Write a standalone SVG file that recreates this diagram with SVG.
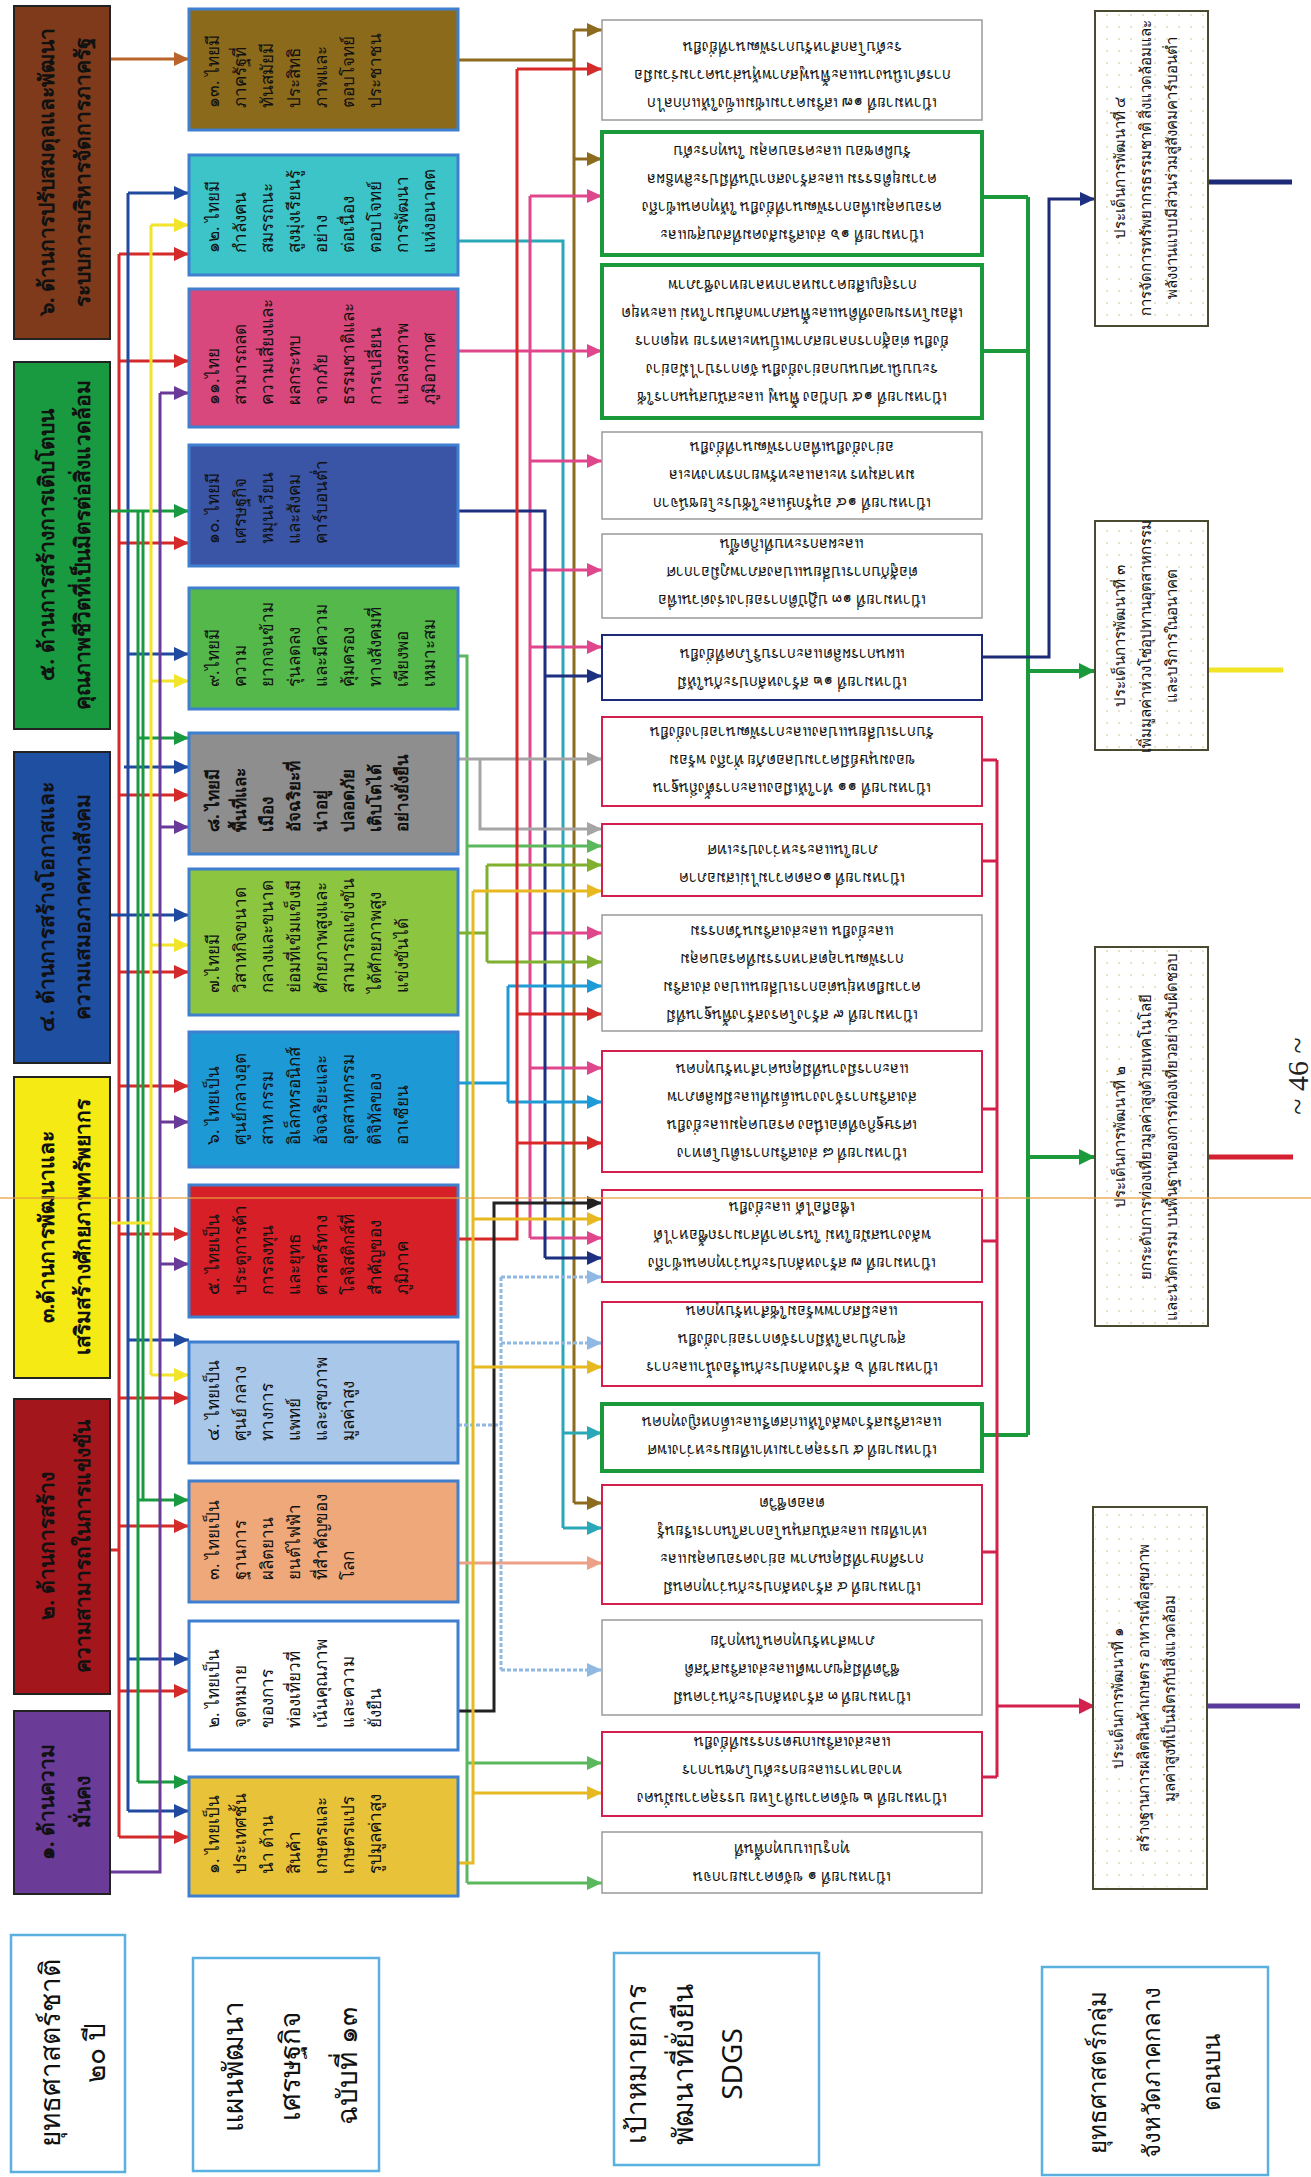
<svg xmlns="http://www.w3.org/2000/svg" width="1311" height="2177" viewBox="0 0 1311 2177">
<style>
.bx1{stroke:#222;stroke-width:2}
.bx2{stroke:#3f7fcf;stroke-width:3}
.sg{fill:#fff;stroke:#9a9a9a;stroke-width:1.5}
.sgG{fill:#fff;stroke:#1a9a3a;stroke-width:4}
.sgR{fill:#fff;stroke:#d4204c;stroke-width:2}
.sgN{fill:#fff;stroke:#1c2a78;stroke-width:2}
.rb{stroke:#4a4a30;stroke-width:2}
.lb{fill:#fff;stroke:#5ab0e0;stroke-width:2.5}
.t1{font-family:'Noto Sans','DejaVu Sans',sans-serif;font-size:21px;font-weight:bold;fill:#111;text-anchor:middle}
.t2{font-family:'Noto Sans','DejaVu Sans',sans-serif;font-size:17px;fill:#111}
.t2b{font-family:'Noto Sans','DejaVu Sans',sans-serif;font-size:17px;font-weight:bold;fill:#111}
.ts{font-family:'Noto Sans','DejaVu Sans',sans-serif;font-size:15px;fill:#111;text-anchor:middle}
.tr{font-family:'Noto Sans','DejaVu Sans',sans-serif;font-size:15px;fill:#111;text-anchor:middle}
.tl{font-family:'Noto Sans','DejaVu Sans',sans-serif;font-size:28px;fill:#111;text-anchor:middle}
.tl2{font-family:'Noto Sans','DejaVu Sans',sans-serif;font-size:24px;fill:#111;text-anchor:middle}
.c{fill:none;stroke-width:3}
</style>
<defs>
<pattern id="dots" width="12" height="12" patternUnits="userSpaceOnUse"><circle cx="3" cy="3" r="0.9" fill="#d9d9a8"/></pattern>
<marker id="mBr1" markerWidth="16" markerHeight="16" refX="15" refY="8" orient="auto" markerUnits="userSpaceOnUse"><path d="M0,1 L15,8 L0,15 z" fill="#b8642a"/></marker>
<marker id="mRed" markerWidth="16" markerHeight="16" refX="15" refY="8" orient="auto" markerUnits="userSpaceOnUse"><path d="M0,1 L15,8 L0,15 z" fill="#d42a2a"/></marker>
<marker id="mNavy" markerWidth="16" markerHeight="16" refX="15" refY="8" orient="auto" markerUnits="userSpaceOnUse"><path d="M0,1 L15,8 L0,15 z" fill="#1f4aa0"/></marker>
<marker id="mGreen" markerWidth="16" markerHeight="16" refX="15" refY="8" orient="auto" markerUnits="userSpaceOnUse"><path d="M0,1 L15,8 L0,15 z" fill="#1a9a40"/></marker>
<marker id="mYel" markerWidth="16" markerHeight="16" refX="15" refY="8" orient="auto" markerUnits="userSpaceOnUse"><path d="M0,1 L15,8 L0,15 z" fill="#f2e42a"/></marker>
<marker id="mPur" markerWidth="16" markerHeight="16" refX="15" refY="8" orient="auto" markerUnits="userSpaceOnUse"><path d="M0,1 L15,8 L0,15 z" fill="#6a3a9a"/></marker>
<marker id="mOB" markerWidth="16" markerHeight="16" refX="15" refY="8" orient="auto" markerUnits="userSpaceOnUse"><path d="M0,1 L15,8 L0,15 z" fill="#8c6a1e"/></marker>
<marker id="mTeal" markerWidth="16" markerHeight="16" refX="15" refY="8" orient="auto" markerUnits="userSpaceOnUse"><path d="M0,1 L15,8 L0,15 z" fill="#2aa8b8"/></marker>
<marker id="mPink" markerWidth="16" markerHeight="16" refX="15" refY="8" orient="auto" markerUnits="userSpaceOnUse"><path d="M0,1 L15,8 L0,15 z" fill="#e0468c"/></marker>
<marker id="mNv2" markerWidth="16" markerHeight="16" refX="15" refY="8" orient="auto" markerUnits="userSpaceOnUse"><path d="M0,1 L15,8 L0,15 z" fill="#1c2f80"/></marker>
<marker id="mLG" markerWidth="16" markerHeight="16" refX="15" refY="8" orient="auto" markerUnits="userSpaceOnUse"><path d="M0,1 L15,8 L0,15 z" fill="#5cb85c"/></marker>
<marker id="mGray" markerWidth="16" markerHeight="16" refX="15" refY="8" orient="auto" markerUnits="userSpaceOnUse"><path d="M0,1 L15,8 L0,15 z" fill="#a5a5a5"/></marker>
<marker id="mOl" markerWidth="16" markerHeight="16" refX="15" refY="8" orient="auto" markerUnits="userSpaceOnUse"><path d="M0,1 L15,8 L0,15 z" fill="#7fb030"/></marker>
<marker id="mBlue" markerWidth="16" markerHeight="16" refX="15" refY="8" orient="auto" markerUnits="userSpaceOnUse"><path d="M0,1 L15,8 L0,15 z" fill="#1e9ad6"/></marker>
<marker id="mLB" markerWidth="16" markerHeight="16" refX="15" refY="8" orient="auto" markerUnits="userSpaceOnUse"><path d="M0,1 L15,8 L0,15 z" fill="#8fb8e2"/></marker>
<marker id="mPch" markerWidth="16" markerHeight="16" refX="15" refY="8" orient="auto" markerUnits="userSpaceOnUse"><path d="M0,1 L15,8 L0,15 z" fill="#eca088"/></marker>
<marker id="mBlk" markerWidth="16" markerHeight="16" refX="15" refY="8" orient="auto" markerUnits="userSpaceOnUse"><path d="M0,1 L15,8 L0,15 z" fill="#222"/></marker>
<marker id="mGold" markerWidth="16" markerHeight="16" refX="15" refY="8" orient="auto" markerUnits="userSpaceOnUse"><path d="M0,1 L15,8 L0,15 z" fill="#e8b820"/></marker>
<marker id="mDG" markerWidth="18" markerHeight="18" refX="16" refY="9" orient="auto" markerUnits="userSpaceOnUse"><path d="M0,1 L16,9 L0,17 z" fill="#1a9a3a"/></marker>
<marker id="mCr" markerWidth="18" markerHeight="18" refX="16" refY="9" orient="auto" markerUnits="userSpaceOnUse"><path d="M0,1 L16,9 L0,17 z" fill="#d4204c"/></marker>
</defs>
<rect width="1311" height="2177" fill="#fff"/>

<g id="connectors">
<!-- national strategy -> plan 13 -->
<path class="c" stroke="#b8642a" d="M110,59 H189" marker-end="url(#mBr1)"/>
<path class="c" stroke="#d42a2a" d="M110,1550 H119 M119,254 V1837"/>
<g stroke="#d42a2a" class="c">
<path d="M119,254 H189" marker-end="url(#mRed)"/><path d="M119,361 H189" marker-end="url(#mRed)"/><path d="M119,543 H189" marker-end="url(#mRed)"/><path d="M119,795 H189" marker-end="url(#mRed)"/><path d="M119,972 H189" marker-end="url(#mRed)"/><path d="M119,1086 H189" marker-end="url(#mRed)"/><path d="M119,1234 H189" marker-end="url(#mRed)"/><path d="M119,1398 H189" marker-end="url(#mRed)"/><path d="M119,1526 H189" marker-end="url(#mRed)"/><path d="M119,1691 H189" marker-end="url(#mRed)"/><path d="M119,1837 H189" marker-end="url(#mRed)"/>
</g>
<path class="c" stroke="#1f4aa0" d="M128,193 V1811"/>
<g stroke="#1f4aa0" class="c">
<path d="M128,193 H189" marker-end="url(#mNavy)"/><path d="M128,654 H189" marker-end="url(#mNavy)"/><path d="M124,767 H189" marker-end="url(#mNavy)"/><path d="M110,915 H189" marker-end="url(#mNavy)"/><path d="M128,1340 H189" marker-end="url(#mNavy)"/><path d="M128,1659 H189" marker-end="url(#mNavy)"/><path d="M128,1811 H189" marker-end="url(#mNavy)"/>
</g>
<path class="c" stroke="#1a9a40" d="M138,511 V1782 M143,511 V1500"/>
<g stroke="#1a9a40" class="c">
<path d="M110,511 H189" marker-end="url(#mGreen)"/><path d="M138,738 H189" marker-end="url(#mGreen)"/><path d="M138,1500 H189" marker-end="url(#mGreen)"/><path d="M138,1782 H189" marker-end="url(#mGreen)"/>
</g>
<path class="c" stroke="#f2e42a" d="M110,1223 H151 M151,225 V1375"/>
<g stroke="#f2e42a" class="c">
<path d="M151,225 H189" marker-end="url(#mYel)"/><path d="M151,681 H189" marker-end="url(#mYel)"/><path d="M151,945 H189" marker-end="url(#mYel)"/><path d="M151,1375 H189" marker-end="url(#mYel)"/>
</g>
<path class="c" stroke="#6a3a9a" d="M110,1872 H160 V393"/>
<g stroke="#6a3a9a" class="c">
<path d="M160,393 H189" marker-end="url(#mPur)"/><path d="M160,827 H189" marker-end="url(#mPur)"/><path d="M160,1122 H189" marker-end="url(#mPur)"/><path d="M160,1264 H189" marker-end="url(#mPur)"/>
</g>

<!-- plan 13 -> SDGs -->
<g class="c" stroke="#8c6a1e"><path d="M458,60 H574 M574,30 V1503"/><path d="M574,30 H602" marker-end="url(#mOB)"/><path d="M574,159 H602" marker-end="url(#mOB)"/><path d="M574,1503 H602" marker-end="url(#mOB)"/></g>
<g class="c" stroke="#2aa8b8"><path d="M458,241 H563 V1528"/><path d="M563,1433 H602" marker-end="url(#mTeal)"/><path d="M563,1528 H602" marker-end="url(#mTeal)"/></g>
<g class="c" stroke="#e0468c"><path d="M530,196 V1238"/><path d="M530,196 H602" marker-end="url(#mPink)"/><path d="M458,351 H602" marker-end="url(#mPink)"/><path d="M530,461 H602" marker-end="url(#mPink)"/><path d="M530,570 H602" marker-end="url(#mPink)"/><path d="M530,647 H602" marker-end="url(#mPink)"/><path d="M530,933 H602" marker-end="url(#mPink)"/><path d="M530,1068 H602" marker-end="url(#mPink)"/><path d="M530,1238 H602" marker-end="url(#mPink)"/></g>
<g class="c" stroke="#1c2f80"><path d="M458,511 H545 V1258"/><path d="M545,676 H602" marker-end="url(#mNv2)"/><path d="M545,1258 H602" marker-end="url(#mNv2)"/></g>
<g class="c" stroke="#5cb85c"><path d="M458,656 H467 V1883"/><path d="M467,846 H602" marker-end="url(#mLG)"/><path d="M467,1763 H602" marker-end="url(#mLG)"/><path d="M467,1883 H602" marker-end="url(#mLG)"/></g>
<g class="c" stroke="#a5a5a5"><path d="M458,759 H602" marker-end="url(#mGray)"/><path d="M480,759 V829 H602" marker-end="url(#mGray)"/></g>
<g class="c" stroke="#7fb030"><path d="M458,933 H487 M487,865 V962"/><path d="M487,865 H602" marker-end="url(#mOl)"/><path d="M487,962 H602" marker-end="url(#mOl)"/></g>
<g class="c" stroke="#1e9ad6"><path d="M458,1083 H508 M508,986 V1102"/><path d="M508,986 H602" marker-end="url(#mBlue)"/><path d="M508,1102 H602" marker-end="url(#mBlue)"/></g>
<g class="c" stroke="#d82828"><path d="M458,1239 H517 V69"/><path d="M517,69 H602" marker-end="url(#mRed)"/><path d="M517,1014 H602" marker-end="url(#mRed)"/><path d="M517,1143 H602" marker-end="url(#mRed)"/></g>
<g class="c" stroke="#8fb8e2" stroke-dasharray="4 2"><path d="M458,1425 H501 M501,1277 V1670"/><path d="M501,1277 H602" marker-end="url(#mLB)"/><path d="M501,1343 H602" marker-end="url(#mLB)"/><path d="M501,1670 H602" marker-end="url(#mLB)"/></g>
<g class="c" stroke="#eca088"><path d="M458,1563 H602" marker-end="url(#mPch)"/></g>
<g class="c" stroke="#222"><path d="M458,1711 H494 V1203 H602" marker-end="url(#mBlk)"/></g>
<g class="c" stroke="#e8b820"><path d="M458,1863 H473 V891"/><path d="M473,891 H602" marker-end="url(#mGold)"/><path d="M473,1219 H602" marker-end="url(#mGold)"/><path d="M473,1367 H602" marker-end="url(#mGold)"/><path d="M473,1793 H602" marker-end="url(#mGold)"/></g>

<!-- SDGs -> cluster issues -->
<g fill="none" stroke="#1a9a3a" stroke-width="4"><path d="M982,197 H1028 M982,351 H1028 M982,1435 H1028 M1028,197 V1435"/><path d="M1028,671 H1095" marker-end="url(#mDG)"/><path d="M1028,1157 H1095" marker-end="url(#mDG)"/></g>
<g fill="none" stroke="#1c2a78" stroke-width="3"><path d="M982,657 H1049 V199 H1095" marker-end="url(#mNv2)"/></g>
<g fill="none" stroke="#d4204c" stroke-width="3"><path d="M982,760 H997 M982,861 H997 M982,1109 H997 M982,1241 H997 M982,1552 H997 M982,1777 H997 M997,760 V1777"/><path d="M997,1706 H1095" marker-end="url(#mCr)"/></g>
<g fill="none" stroke-width="5"><path d="M1208,182 H1292" stroke="#1c2a78"/><path d="M1208,670 H1283" stroke="#f0e424"/><path d="M1208,1157 H1293" stroke="#d42030"/><path d="M1208,1706 H1300" stroke="#5a3a9a"/></g>
</g>

<!-- national strategy -->
<g id="ns6"><rect class="bx1" x="14" y="6" width="96" height="333" fill="#7e3a1a"/><text class="t1" transform="translate(54,172) rotate(-90)"><tspan x="0">๖. ด้านการปรับสมดุลและพัฒนา</tspan><tspan x="0" dy="36">ระบบการบริหารจัดการภาครัฐ</tspan></text></g>
<g id="ns5"><rect class="bx1" x="14" y="362" width="96" height="367" fill="#1a9a40"/><text class="t1" transform="translate(54,545) rotate(-90)"><tspan x="0">๕. ด้านการสร้างการเติบโตบน</tspan><tspan x="0" dy="36">คุณภาพชีวิตที่เป็นมิตรต่อสิ่งแวดล้อม</tspan></text></g>
<g id="ns4"><rect class="bx1" x="14" y="752" width="96" height="311" fill="#1f4fa0"/><text class="t1" transform="translate(54,907) rotate(-90)"><tspan x="0">๔. ด้านการสร้างโอกาสและ</tspan><tspan x="0" dy="36">ความเสมอภาคทางสังคม</tspan></text></g>
<g id="ns3"><rect class="bx1" x="14" y="1077" width="96" height="301" fill="#f5ea14"/><text class="t1" transform="translate(54,1227) rotate(-90)"><tspan x="0">๓.ด้านการพัฒนาและ</tspan><tspan x="0" dy="36">เสริมสร้างศักยภาพทรัพยากร</tspan></text></g>
<g id="ns2"><rect class="bx1" x="14" y="1399" width="96" height="295" fill="#a3171c"/><text class="t1" transform="translate(54,1546) rotate(-90)"><tspan x="0">๒. ด้านการสร้าง</tspan><tspan x="0" dy="36">ความสามารถในการแข่งขัน</tspan></text></g>
<g id="ns1"><rect class="bx1" x="14" y="1711" width="96" height="183" fill="#6b3b98"/><text class="t1" transform="translate(54,1802) rotate(-90)"><tspan x="0">๑. ด้านความ</tspan><tspan x="0" dy="36">มั่นคง</tspan></text></g>

<!-- plan 13 milestones -->
<g id="p13"><rect class="bx2" x="189" y="9" width="269" height="121" fill="#8c6a1c"/><text class="t2" transform="translate(219,108) rotate(-90)"><tspan x="0">๑๓. ไทยมี</tspan><tspan x="0" dy="27">ภาครัฐที่</tspan><tspan x="0" dy="27">ทันสมัยมี</tspan><tspan x="0" dy="27">ประสิทธิ</tspan><tspan x="0" dy="27">ภาพและ</tspan><tspan x="0" dy="27">ตอบโจทย์</tspan><tspan x="0" dy="27">ประชาชน</tspan></text></g>
<g id="p12"><rect class="bx2" x="189" y="155" width="269" height="120" fill="#3cc4c8"/><text class="t2" transform="translate(219,253) rotate(-90)"><tspan x="0">๑๒. ไทยมี</tspan><tspan x="0" dy="27">กำลังคน</tspan><tspan x="0" dy="27">สมรรถนะ</tspan><tspan x="0" dy="27">สูงมุ่งเรียนรู้</tspan><tspan x="0" dy="27">อย่าง</tspan><tspan x="0" dy="27">ต่อเนื่อง</tspan><tspan x="0" dy="27">ตอบโจทย์</tspan><tspan x="0" dy="27">การพัฒนา</tspan><tspan x="0" dy="27">แห่งอนาคต</tspan></text></g>
<g id="p11"><rect class="bx2" x="189" y="289" width="269" height="138" fill="#d9487c"/><text class="t2" transform="translate(219,405) rotate(-90)"><tspan x="0">๑๑.ไทย</tspan><tspan x="0" dy="27">สามารถลด</tspan><tspan x="0" dy="27">ความเสี่ยงและ</tspan><tspan x="0" dy="27">ผลกระทบ</tspan><tspan x="0" dy="27">จากภัย</tspan><tspan x="0" dy="27">ธรรมชาติและ</tspan><tspan x="0" dy="27">การเปลี่ยน</tspan><tspan x="0" dy="27">แปลงสภาพ</tspan><tspan x="0" dy="27">ภูมิอากาศ</tspan></text></g>
<g id="p10"><rect class="bx2" x="189" y="445" width="269" height="121" fill="#3a55a5"/><text class="t2" transform="translate(219,544) rotate(-90)"><tspan x="0">๑๐. ไทยมี</tspan><tspan x="0" dy="27">เศรษฐกิจ</tspan><tspan x="0" dy="27">หมุนเวียน</tspan><tspan x="0" dy="27">และสังคม</tspan><tspan x="0" dy="27">คาร์บอนต่ำ</tspan></text></g>
<g id="p9"><rect class="bx2" x="189" y="588" width="269" height="121" fill="#55b84a"/><text class="t2" transform="translate(219,687) rotate(-90)"><tspan x="0">๙.ไทยมี</tspan><tspan x="0" dy="27">ความ</tspan><tspan x="0" dy="27">ยากจนข้าม</tspan><tspan x="0" dy="27">รุ่นลดลง</tspan><tspan x="0" dy="27">และมีความ</tspan><tspan x="0" dy="27">คุ้มครอง</tspan><tspan x="0" dy="27">ทางสังคมที่</tspan><tspan x="0" dy="27">เพียงพอ</tspan><tspan x="0" dy="27">เหมาะสม</tspan></text></g>
<g id="p8"><rect class="bx2" x="189" y="733" width="269" height="121" fill="#8e8e8e"/><text class="t2b" transform="translate(219,832) rotate(-90)"><tspan x="0">๘. ไทยมี</tspan><tspan x="0" dy="27">พื้นที่และ</tspan><tspan x="0" dy="27">เมือง</tspan><tspan x="0" dy="27">อัจฉริยะที่</tspan><tspan x="0" dy="27">น่าอยู่</tspan><tspan x="0" dy="27">ปลอดภัย</tspan><tspan x="0" dy="27">เติบโตได้</tspan><tspan x="0" dy="27">อย่างยั่งยืน</tspan></text></g>
<g id="p7"><rect class="bx2" x="189" y="869" width="269" height="146" fill="#8cc540"/><text class="t2" transform="translate(219,993) rotate(-90)"><tspan x="0">๗.ไทยมี</tspan><tspan x="0" dy="27">วิสาหกิจขนาด</tspan><tspan x="0" dy="27">กลางและขนาด</tspan><tspan x="0" dy="27">ย่อมที่เข้มแข็งมี</tspan><tspan x="0" dy="27">ศักยภาพสูงและ</tspan><tspan x="0" dy="27">สามารถแข่งขัน</tspan><tspan x="0" dy="27">ได้ศักยภาพสูง</tspan><tspan x="0" dy="27">แข่งขันได้</tspan></text></g>
<g id="p6"><rect class="bx2" x="189" y="1032" width="269" height="135" fill="#1d9ad6"/><text class="t2" transform="translate(219,1145) rotate(-90)"><tspan x="0">๖. ไทยเป็น</tspan><tspan x="0" dy="27">ศูนย์กลางอุต</tspan><tspan x="0" dy="27">สาห กรรม</tspan><tspan x="0" dy="27">อิเล็กทรอนิกส์</tspan><tspan x="0" dy="27">อัจฉริยะและ</tspan><tspan x="0" dy="27">อุตสาหกรรม</tspan><tspan x="0" dy="27">ดิจิทัลของ</tspan><tspan x="0" dy="27">อาเซียน</tspan></text></g>
<g id="p5"><rect class="bx2" x="189" y="1185" width="269" height="132" fill="#d61f26"/><text class="t2" transform="translate(219,1295) rotate(-90)"><tspan x="0">๕. ไทยเป็น</tspan><tspan x="0" dy="27">ประตูการค้า</tspan><tspan x="0" dy="27">การลงทุน</tspan><tspan x="0" dy="27">และยุทธ</tspan><tspan x="0" dy="27">ศาสตร์ทาง</tspan><tspan x="0" dy="27">โลจิสติกส์ที่</tspan><tspan x="0" dy="27">สำคัญของ</tspan><tspan x="0" dy="27">ภูมิภาค</tspan></text></g>
<g id="p4"><rect class="bx2" x="189" y="1342" width="269" height="121" fill="#a9c7e8"/><text class="t2" transform="translate(219,1441) rotate(-90)"><tspan x="0">๔. ไทยเป็น</tspan><tspan x="0" dy="27">ศูนย์ กลาง</tspan><tspan x="0" dy="27">ทางการ</tspan><tspan x="0" dy="27">แพทย์</tspan><tspan x="0" dy="27">และสุขภาพ</tspan><tspan x="0" dy="27">มูลค่าสูง</tspan></text></g>
<g id="p3"><rect class="bx2" x="189" y="1481" width="269" height="121" fill="#efa87a"/><text class="t2" transform="translate(219,1580) rotate(-90)"><tspan x="0">๓. ไทยเป็น</tspan><tspan x="0" dy="27">ฐานการ</tspan><tspan x="0" dy="27">ผลิตยาน</tspan><tspan x="0" dy="27">ยนต์ไฟฟ้า</tspan><tspan x="0" dy="27">ที่สำคัญของ</tspan><tspan x="0" dy="27">โลก</tspan></text></g>
<g id="p2"><rect class="bx2" x="189" y="1621" width="269" height="129" fill="#ffffff"/><text class="t2" transform="translate(219,1728) rotate(-90)"><tspan x="0">๒. ไทยเป็น</tspan><tspan x="0" dy="27">จุดหมาย</tspan><tspan x="0" dy="27">ของการ</tspan><tspan x="0" dy="27">ท่องเที่ยวที่</tspan><tspan x="0" dy="27">เน้นคุณภาพ</tspan><tspan x="0" dy="27">และความ</tspan><tspan x="0" dy="27">ยั่งยืน</tspan></text></g>
<g id="p1"><rect class="bx2" x="189" y="1777" width="269" height="119" fill="#e8c33a"/><text class="t2" transform="translate(219,1874) rotate(-90)"><tspan x="0">๑. ไทยเป็น</tspan><tspan x="0" dy="27">ประเทศชั้น</tspan><tspan x="0" dy="27">นำ ด้าน</tspan><tspan x="0" dy="27">สินค้า</tspan><tspan x="0" dy="27">เกษตรและ</tspan><tspan x="0" dy="27">เกษตรแปร</tspan><tspan x="0" dy="27">รูปมูลค่าสูง</tspan></text></g>

<!-- SDGs -->
<g id="sdg17"><rect class="sg" x="602" y="20" width="380" height="100"/><text class="ts" transform="translate(792,98) rotate(180)"><tspan x="0">เป้าหมายที่ ๑๗ เสริมความเข้มแข็งให้แก่กลไก</tspan><tspan x="0" dy="28">การดำเนินงานและฟื้นฟูสภาพหุ้นส่วนความร่วมมือ</tspan><tspan x="0" dy="28">ระดับโลกสำหรับการพัฒนาที่ยั่งยืน</tspan></text></g>
<g id="sdg16"><rect class="sgG" x="602" y="132" width="380" height="123"/><text class="ts" transform="translate(792,230) rotate(180)"><tspan x="0">เป้าหมายที่ ๑๖ ส่งเสริมสังคมที่สงบสุขและ</tspan><tspan x="0" dy="28">ครอบคลุมเพื่อการพัฒนาที่ยั่งยืน ให้ทุกคนเข้าถึง</tspan><tspan x="0" dy="28">ความยุติธรรม และสร้างสถาบันที่มีประสิทธิผล</tspan><tspan x="0" dy="28">รับผิดชอบ และครอบคลุม ในทุกระดับ</tspan></text></g>
<g id="sdg15"><rect class="sgG" x="602" y="265" width="380" height="153"/><text class="ts" transform="translate(792,392) rotate(180)"><tspan x="0">เป้าหมายที่ ๑๕ ปกป้อง ฟื้นฟู และสนับสนุนการใช้</tspan><tspan x="0" dy="28">ระบบนิเวศบนบกอย่างยั่งยืน จัดการป่าไม้อย่าง</tspan><tspan x="0" dy="28">ยั่งยืน ต่อสู้การกลายสภาพเป็นทะเลทราย หยุดการ</tspan><tspan x="0" dy="28">เสื่อมโทรมของที่ดินและฟื้นสภาพกลับมาใหม่ และหยุด</tspan><tspan x="0" dy="28">การสูญเสียความหลากหลายทางชีวภาพ</tspan></text></g>
<g id="sdg14"><rect class="sg" x="602" y="432" width="380" height="87"/><text class="ts" transform="translate(792,498) rotate(180)"><tspan x="0">เป้าหมายที่ ๑๔ อนุรักษ์และใช้ประโยชน์จาก</tspan><tspan x="0" dy="28">มหาสมุทร ทะเลและทรัพยากรทางทะเล</tspan><tspan x="0" dy="28">อย่างยั่งยืนเพื่อการพัฒนาที่ยั่งยืน</tspan></text></g>
<g id="sdg13"><rect class="sg" x="602" y="534" width="380" height="84"/><text class="ts" transform="translate(792,595) rotate(180)"><tspan x="0">เป้าหมายที่ ๑๓ ปฏิบัติการอย่างเร่งด่วนเพื่อ</tspan><tspan x="0" dy="28">ต่อสู้กับการเปลี่ยนแปลงสภาพภูมิอากาศ</tspan><tspan x="0" dy="28">และผลกระทบที่เกิดขึ้น</tspan></text></g>
<g id="sdg12"><rect class="sgN" x="602" y="635" width="380" height="65"/><text class="ts" transform="translate(792,677) rotate(180)"><tspan x="0">เป้าหมายที่ ๑๒ สร้างหลักประกันให้มี</tspan><tspan x="0" dy="28">แผนการผลิตและการบริโภคที่ยั่งยืน</tspan></text></g>
<g id="sdg11"><rect class="sgR" x="602" y="717" width="380" height="89"/><text class="ts" transform="translate(792,783) rotate(180)"><tspan x="0">เป้าหมายที่ ๑๑ ทำให้เมืองและการตั้งถิ่นฐาน</tspan><tspan x="0" dy="28">ของมนุษย์มีความปลอดภัย ทั่วถึง พร้อม</tspan><tspan x="0" dy="28">รับการเปลี่ยนแปลงและการพัฒนาอย่างยั่งยืน</tspan></text></g>
<g id="sdg10"><rect class="sgR" x="602" y="824" width="380" height="72"/><text class="ts" transform="translate(792,873) rotate(180)"><tspan x="0">เป้าหมายที่ ๑๐ลดความไม่เสมอภาค</tspan><tspan x="0" dy="28">ภายในและระหว่างประเทศ</tspan></text></g>
<g id="sdg9"><rect class="sg" x="602" y="915" width="380" height="116"/><text class="ts" transform="translate(792,1010) rotate(180)"><tspan x="0">เป้าหมายที่ ๙ สร้างโครงสร้างพื้นฐานที่มี</tspan><tspan x="0" dy="28">ความยืดหยุ่นต่อการเปลี่ยนแปลง ส่งเสริม</tspan><tspan x="0" dy="28">การพัฒนาอุตสาหกรรมที่ครอบคลุม</tspan><tspan x="0" dy="28">และยั่งยืน และส่งเสริมนวัตกรรม</tspan></text></g>
<g id="sdg8"><rect class="sgR" x="602" y="1051" width="380" height="121"/><text class="ts" transform="translate(792,1148) rotate(180)"><tspan x="0">เป้าหมายที่ ๘ ส่งเสริมการเติบโตทาง</tspan><tspan x="0" dy="28">เศรษฐกิจที่ต่อเนื่อง ครอบคลุมและยั่งยืน</tspan><tspan x="0" dy="28">ส่งเสริมการจ้างงานเต็มที่และมีผลิตภาพ</tspan><tspan x="0" dy="28">และการมีงานที่มีคุณค่าสำหรับทุกคน</tspan></text></g>
<g id="sdg7"><rect class="sgR" x="602" y="1190" width="380" height="92"/><text class="ts" transform="translate(792,1258) rotate(180)"><tspan x="0">เป้าหมายที่ ๗ สร้างหลักประกันว่าทุกคนเข้าถึง</tspan><tspan x="0" dy="28">พลังงานสมัยใหม่ ในราคาที่สามารถซื้อหาได้</tspan><tspan x="0" dy="28">เชื่อถือได้ และยั่งยืน</tspan></text></g>
<g id="sdg6"><rect class="sgR" x="602" y="1302" width="380" height="84"/><text class="ts" transform="translate(792,1362) rotate(180)"><tspan x="0">เป้าหมายที่ ๖ สร้างหลักประกันเรื่องน้ำและการ</tspan><tspan x="0" dy="28">สุขาภิบาลให้มีการจัดการอย่างยั่งยืน</tspan><tspan x="0" dy="28">และมีสภาพพร้อมใช้สำหรับทุกคน</tspan></text></g>
<g id="sdg5"><rect class="sgG" x="602" y="1404" width="380" height="67"/><text class="ts" transform="translate(792,1445) rotate(180)"><tspan x="0">เป้าหมายที่ ๕ บรรลุความเท่าเทียมระหว่างเพศ</tspan><tspan x="0" dy="28">และเสริมสร้างพลังให้แก่สตรีและเด็กหญิงทุกคน</tspan></text></g>
<g id="sdg4"><rect class="sgR" x="602" y="1485" width="380" height="119"/><text class="ts" transform="translate(792,1582) rotate(180)"><tspan x="0">เป้าหมายที่ ๔ สร้างหลักประกันว่าทุกคนมี</tspan><tspan x="0" dy="28">การศึกษาที่มีคุณภาพ อย่างครอบคลุมและ</tspan><tspan x="0" dy="28">เท่าเทียม และสนับสนุนโอกาสในการเรียนรู้</tspan><tspan x="0" dy="28">ตลอดชีวิต</tspan></text></g>
<g id="sdg3"><rect class="sg" x="602" y="1620" width="380" height="95"/><text class="ts" transform="translate(792,1692) rotate(180)"><tspan x="0">เป้าหมายที่ ๓ สร้างหลักประกันว่าคนมี</tspan><tspan x="0" dy="28">ชีวิตที่มีสุขภาพดีและส่งเสริมสวัสดิ</tspan><tspan x="0" dy="28">ภาพสำหรับทุกคนในทุกวัย</tspan></text></g>
<g id="sdg2"><rect class="sgR" x="602" y="1732" width="380" height="84"/><text class="ts" transform="translate(792,1793) rotate(180)"><tspan x="0">เป้าหมายที่ ๒ ขจัดความหิวโหย บรรลุความมั่นคง</tspan><tspan x="0" dy="28">ทางอาหารและยกระดับโภชนาการ</tspan><tspan x="0" dy="28">และส่งเสริมเกษตรกรรมที่ยั่งยืน</tspan></text></g>
<g id="sdg1"><rect class="sg" x="602" y="1832" width="380" height="61"/><text class="ts" transform="translate(792,1872) rotate(180)"><tspan x="0">เป้าหมายที่ ๑ ขจัดความยากจน</tspan><tspan x="0" dy="28">ทุกรูปแบบทุกพื้นที่</tspan></text></g>

<!-- cluster development issues -->
<g id="issue4"><rect class="rb" x="1095" y="11" width="113" height="315" fill="#fff"/><rect x="1097" y="13" width="109" height="311" fill="url(#dots)"/><text class="tr" transform="translate(1125,168) rotate(-90)"><tspan x="0">ประเด็นการพัฒนาที่ ๔</tspan><tspan x="0" dy="26">การจัดการทรัพยากรธรรมชาติ สิ่งแวดล้อมและ</tspan><tspan x="0" dy="26">พลังงานแบบมีส่วนร่วมสู่สังคมคาร์บอนต่ำ</tspan></text></g>
<g id="issue3"><rect class="rb" x="1095" y="521" width="113" height="229" fill="#fff"/><rect x="1097" y="523" width="109" height="225" fill="url(#dots)"/><text class="tr" transform="translate(1125,636) rotate(-90)"><tspan x="0">ประเด็นการพัฒนาที่ ๓</tspan><tspan x="0" dy="26">เพิ่มมูลค่าห่วงโซ่อุปทานอุตสาหกรรม</tspan><tspan x="0" dy="26">และบริการในอนาคต</tspan></text></g>
<g id="issue2"><rect class="rb" x="1095" y="947" width="113" height="379" fill="#fff"/><rect x="1097" y="949" width="109" height="375" fill="url(#dots)"/><text class="tr" transform="translate(1125,1137) rotate(-90)"><tspan x="0">ประเด็นการพัฒนาที่ ๒</tspan><tspan x="0" dy="26">ยกระดับการท่องเที่ยวมูลค่าสูงด้วยเทคโนโลยี</tspan><tspan x="0" dy="26">และนวัตกรรม บนพื้นฐานของการท่องเที่ยวอย่างรับผิดชอบ</tspan></text></g>
<g id="issue1"><rect class="rb" x="1093" y="1507" width="114" height="382" fill="#fff"/><rect x="1095" y="1509" width="110" height="378" fill="url(#dots)"/><text class="tr" transform="translate(1123,1698) rotate(-90)"><tspan x="0">ประเด็นการพัฒนาที่ ๑</tspan><tspan x="0" dy="26">สร้างฐานการผลิตสินค้าเกษตร อาหารเพื่อสุขภาพ</tspan><tspan x="0" dy="26">มูลค่าสูงที่เป็นมิตรกับสิ่งแวดล้อม</tspan></text></g>

<!-- column labels -->
<g id="labelNS"><rect class="lb" x="11" y="1935" width="114" height="237"/><text class="tl" transform="translate(60,2053) rotate(-90)"><tspan x="0">ยุทธศาสตร์ชาติ</tspan><tspan x="0" dy="45">๒๐ ปี</tspan></text></g>
<g id="labelPlan"><rect class="lb" x="193" y="1958" width="186" height="213"/><text class="tl" transform="translate(243,2066) rotate(-90)"><tspan x="0">แผนพัฒนา</tspan><tspan x="0" dy="57">เศรษฐกิจ</tspan><tspan x="0" dy="57">ฉบับที่ ๑๓</tspan></text></g>
<g id="labelSDG"><rect class="lb" x="614" y="1953" width="205" height="212"/><text class="tl" transform="translate(646,2064) rotate(-90)"><tspan x="0">เป้าหมายการ</tspan><tspan x="0" dy="47">พัฒนาที่ยั่งยืน</tspan><tspan x="0" dy="49">SDGS</tspan></text></g>
<g id="labelCluster"><rect class="lb" x="1042" y="1967" width="226" height="208"/><text class="tl2" transform="translate(1106,2072) rotate(-90)"><tspan x="0">ยุทธศาสตร์กลุ่ม</tspan><tspan x="0" dy="54">จังหวัดภาคกลาง</tspan><tspan x="0" dy="60">ตอนบน</tspan></text></g>

<text font-family="'Liberation Serif',serif" font-size="30" fill="#222" text-anchor="middle" transform="translate(1308,1076) rotate(-90)">~ 46 ~</text>
<path d="M0,1198 H1311" stroke="#e8a040" stroke-width="1.5" opacity="0.85"/>
</svg>
